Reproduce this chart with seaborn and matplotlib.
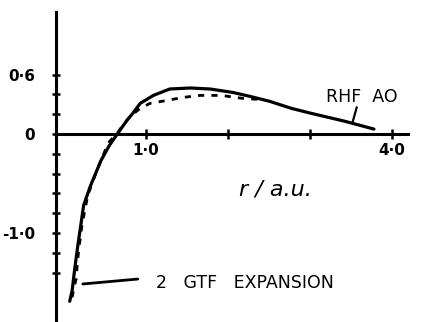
import matplotlib
matplotlib.use("Agg")
import matplotlib.pyplot as plt
import seaborn as sns
import numpy as np

# Radial function of the RHF atomic orbital (solid) and its 2-GTF fit (dashed)
r_rhf = [0.07, 0.10, 0.13, 0.17, 0.20, 0.24, 0.32, 0.40, 0.45, 0.55, 0.65,
         0.77, 0.84, 0.93, 1.09, 1.29, 1.54, 1.78, 2.06, 2.27, 2.51, 2.77,
         3.01, 3.42, 3.78]
psi_rhf = [-1.69, -1.58, -1.37, -1.12, -0.95, -0.72, -0.53, -0.37, -0.27,
           -0.12, 0.00, 0.14, 0.21, 0.31, 0.39, 0.455, 0.465, 0.455, 0.42,
           0.38, 0.33, 0.26, 0.21, 0.13, 0.05]

r_gtf = [0.10, 0.12, 0.15, 0.16, 0.18, 0.22, 0.29, 0.40, 0.54, 0.65, 0.73,
         0.81, 0.93, 1.05, 1.26, 1.45, 1.66, 1.92, 2.18, 2.37]
psi_gtf = [-1.65, -1.56, -1.46, -1.34, -1.17, -0.92, -0.62, -0.37, -0.09,
           0.01, 0.10, 0.18, 0.26, 0.31, 0.34, 0.37, 0.39, 0.39, 0.36, 0.35]

x_ticks = [1.0, 2.0, 3.0, 4.0]
x_tick_labels = ["1·0", "", "", "4·0"]
y_ticks = [-1.4, -1.2, -1.0, -0.8, -0.6, -0.4, -0.2, 0.0, 0.2, 0.4, 0.6]
y_tick_labels = ["", "", "-1·0", "", "", "", "", "0", "", "", "0·6"]

sns.set_style("white")
plt.rcParams["font.family"] = ["DejaVu Sans"]
plt.rcParams["text.color"] = "black"

fig = plt.figure(figsize=(4.22, 3.22), dpi=100)
ax = fig.add_axes([0, 0, 1, 1])
ax.set_xlim(-0.78, 4.366)
ax.set_ylim(-1.899, 1.354)

sns.lineplot(x=r_rhf, y=psi_rhf, ax=ax, color="black", linewidth=2.3,
             estimator=None, sort=False)
sns.lineplot(x=r_gtf, y=psi_gtf, ax=ax, color="black", linewidth=2.0,
             linestyle=(0, (2.2, 2.6)), estimator=None, sort=False)

# hand-drawn style axes crossing at the origin
for side in ("top", "right"):
    ax.spines[side].set_visible(False)
ax.spines["left"].set_position(("data", -0.098))
ax.spines["bottom"].set_position(("data", 0.0))
ax.spines["left"].set_bounds(-1.9, 1.23)
ax.spines["bottom"].set_bounds(-0.098, 4.2)
for s in ("left", "bottom"):
    ax.spines[s].set_linewidth(2.2)
    ax.spines[s].set_color("black")

ax.set_xticks(x_ticks)
ax.set_xticklabels(x_tick_labels, fontsize=11, fontweight="bold")
ax.set_yticks(y_ticks)
ax.set_yticklabels(y_tick_labels, fontsize=11, fontweight="bold")
ax.tick_params(axis="x", bottom=True, direction="inout", length=7, width=1.8,
               pad=3, colors="black", labelcolor="black")
ax.tick_params(axis="y", left=True, direction="inout", length=6, width=1.8,
               pad=12, colors="black", labelcolor="black")
ax.set_xlabel("")
ax.set_ylabel("")

# curve labels with leader strokes
ax.plot([3.52, 3.57], [0.12, 0.27], color="black", linewidth=1.6)
ax.text(3.2, 0.37, "RHF  AO", fontsize=12.5, ha="left", va="center",
        color="black")

ax.plot([0.23, 0.90], [-1.515, -1.465], color="black", linewidth=2.0)
ax.text(1.12, -1.50, "2   GTF   EXPANSION", fontsize=12.5, ha="left",
        va="center", color="black")

ax.text(2.58, -0.56, "r / a.u.", fontsize=16, ha="center", va="center",
        style="italic", color="black")

fig.savefig("out.png", dpi=100, facecolor="white")
